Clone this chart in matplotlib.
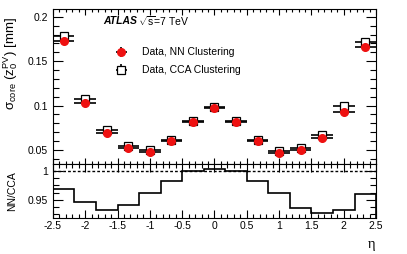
import numpy as np
import matplotlib
matplotlib.use("Agg")
import matplotlib.pyplot as plt
from matplotlib.ticker import MultipleLocator, AutoMinorLocator, FormatStrFormatter

plt.rcParams['font.family'] = ['Liberation Sans', 'DejaVu Sans']
plt.rcParams['mathtext.fontset'] = 'custom'
plt.rcParams['mathtext.rm'] = 'Liberation Sans'
plt.rcParams['mathtext.it'] = 'Liberation Sans:italic'
plt.rcParams['axes.unicode_minus'] = False

# eta binning: 15 bins from -2.5 to 2.5
eta_edges = np.linspace(-2.5, 2.5, 16)
eta = 0.5 * (eta_edges[:-1] + eta_edges[1:])
eta_halfwidth = 0.5 * np.diff(eta_edges)

# sigma_core(z0 PV) [mm]
sigma_nn = [0.173, 0.103, 0.069, 0.052, 0.048, 0.060, 0.082, 0.097,
            0.082, 0.060, 0.047, 0.050, 0.063, 0.093, 0.166]
sigma_cca = [0.178, 0.107, 0.072, 0.054, 0.050, 0.061, 0.083, 0.098,
             0.083, 0.061, 0.049, 0.052, 0.067, 0.099, 0.172]
err_nn = [0.001] * 15
err_cca = [0.001] * 15

# NN / CCA ratio
ratio = [0.968, 0.946, 0.933, 0.941, 0.962, 0.983, 0.999, 1.003,
         0.999, 0.983, 0.962, 0.936, 0.927, 0.933, 0.960]

fig = plt.figure(figsize=(4.07, 2.54), dpi=100)
ax1 = fig.add_axes([0.130, 0.354, 0.794, 0.611])
ax2 = fig.add_axes([0.130, 0.142, 0.794, 0.212])

# upper panel
h_cca = ax1.errorbar(eta, sigma_cca, xerr=eta_halfwidth, yerr=err_cca, fmt='s',
                     color='black', mfc='white', mec='black', ms=5.5, mew=0.9,
                     elinewidth=1.2, capsize=0, label='Data, CCA Clustering')
h_nn = ax1.errorbar(eta, sigma_nn, xerr=eta_halfwidth, yerr=err_nn, fmt='o',
                    color='black', mfc='#ee1111', mec='#ee1111', ms=5.5,
                    elinewidth=1.2, capsize=0, label='Data, NN Clustering')

ax1.set_xlim(-2.5, 2.5)
ax1.set_ylim(0.034, 0.209)
ax1.yaxis.set_major_locator(MultipleLocator(0.05))
ax1.yaxis.set_minor_locator(AutoMinorLocator(5))
ax1.yaxis.set_major_formatter(FormatStrFormatter('%g'))
ax1.xaxis.set_major_locator(MultipleLocator(0.5))
ax1.xaxis.set_minor_locator(AutoMinorLocator(5))
ax1.tick_params(axis='x', labelbottom=False)
ax1.set_ylabel(r'$\mathrm{\sigma}_{\mathrm{core}}\ (\mathrm{z}_{0}^{\mathrm{PV}})$ [mm]',
               fontsize=9.5)
ax1.yaxis.set_label_coords(-0.103, 0.65)

leg = ax1.legend(handles=[h_nn, h_cca], loc='center left',
                 bbox_to_anchor=(0.170, 0.662), frameon=False, fontsize=7.5,
                 borderpad=0, borderaxespad=0, handlelength=2.6,
                 handletextpad=0.7, labelspacing=0.75)

ax1.text(0.155, 0.923, 'ATLAS', transform=ax1.transAxes, fontsize=7.5,
         fontweight='bold', fontstyle='italic', va='center')
ax1.text(0.262, 0.923, r'$\sqrt{\mathrm{s}}$=7 TeV', transform=ax1.transAxes,
         fontsize=7.5, va='center')

# lower panel
ax2.stairs(ratio, eta_edges, color='black', lw=1.2)
ax2.axhline(1.0, color='black', ls=(0, (2, 1.5)), lw=1.0)
ax2.set_xlim(-2.5, 2.5)
ax2.set_ylim(0.919, 1.0114)
ax2.yaxis.set_major_locator(MultipleLocator(0.05))
ax2.yaxis.set_minor_locator(AutoMinorLocator(4))
ax2.yaxis.set_major_formatter(FormatStrFormatter('%g'))
ax2.xaxis.set_major_locator(MultipleLocator(0.5))
ax2.xaxis.set_minor_locator(AutoMinorLocator(5))
ax2.xaxis.set_major_formatter(FormatStrFormatter('%g'))
ax2.set_ylabel('NN/CCA', fontsize=7.5)
ax2.yaxis.set_label_coords(-0.111, 0.5)

for ax in (ax1, ax2):
    ax.tick_params(which='both', direction='in', top=True, right=True,
                   labelsize=7.5, width=0.8)
    for s in ax.spines.values():
        s.set_linewidth(0.8)

ax1.tick_params(axis='y', which='major', length=7.5)
ax1.tick_params(axis='y', which='minor', length=4)
ax1.tick_params(axis='x', which='major', length=4)
ax1.tick_params(axis='x', which='minor', length=2)
ax2.tick_params(axis='y', which='major', length=7)
ax2.tick_params(axis='y', which='minor', length=4)
ax2.tick_params(axis='x', which='major', length=5.5)
ax2.tick_params(axis='x', which='minor', length=3)
ax2.tick_params(axis='x', pad=2)

fig.text(0.914, 0.039, 'η', fontsize=10.5, ha='center', va='center',
         family='Liberation Serif')

fig.savefig('out.png', dpi=100)
